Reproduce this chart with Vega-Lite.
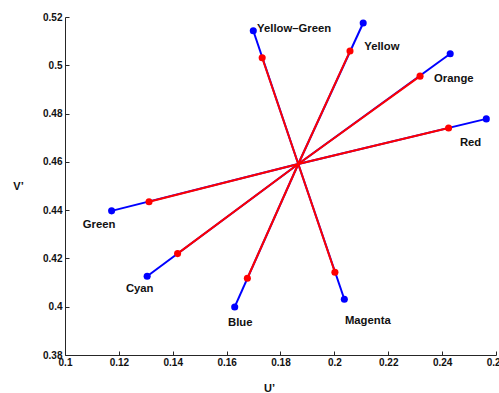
{
  "$schema": "https://vega.github.io/schema/vega-lite/v6.json",
  "width": 431,
  "height": 338,
  "autosize": {"type": "none"},
  "padding": {"left": 65, "top": 17, "right": 3, "bottom": 38},
  "background": "white",
  "config": {
    "view": {"stroke": null},
    "font": "Liberation Sans",
    "axis": {
      "grid": false,
      "domainColor": "#262626",
      "tickColor": "#262626",
      "domainWidth": 1,
      "tickWidth": 1,
      "tickSize": -4,
      "labelFlush": false,
      "labelOverlap": false,
      "labelBound": false,
      "labelFont": "Liberation Sans",
      "labelFontWeight": "bold",
      "labelFontSize": 10,
      "labelColor": "#111111",
      "titleFont": "Liberation Sans",
      "titleFontWeight": "bold",
      "titleFontSize": 11,
      "titleColor": "#111111"
    }
  },
  "data": {
    "values": [
      {"name": "Yellow–Green", "wu": 0.1866, "wv": 0.4591, "uo": 0.1699, "vo": 0.5143, "ui": 0.1732, "vi": 0.5031, "lu": 0.1713, "lv": 0.5151},
      {"name": "Yellow", "wu": 0.1866, "wv": 0.4591, "uo": 0.2107, "vo": 0.5175, "ui": 0.2058, "vi": 0.5059, "lu": 0.2111, "lv": 0.5077},
      {"name": "Orange", "wu": 0.1866, "wv": 0.4591, "uo": 0.2430, "vo": 0.5048, "ui": 0.2318, "vi": 0.4955, "lu": 0.2370, "lv": 0.4943},
      {"name": "Red", "wu": 0.1866, "wv": 0.4591, "uo": 0.2564, "vo": 0.4778, "ui": 0.2424, "vi": 0.4740, "lu": 0.2466, "lv": 0.4679},
      {"name": "Green", "wu": 0.1866, "wv": 0.4591, "uo": 0.1173, "vo": 0.4397, "ui": 0.1312, "vi": 0.4435, "lu": 0.1066, "lv": 0.4339},
      {"name": "Cyan", "wu": 0.1866, "wv": 0.4591, "uo": 0.1305, "vo": 0.4126, "ui": 0.1418, "vi": 0.4220, "lu": 0.1226, "lv": 0.4074},
      {"name": "Blue", "wu": 0.1866, "wv": 0.4591, "uo": 0.1630, "vo": 0.3999, "ui": 0.1677, "vi": 0.4118, "lu": 0.1605, "lv": 0.3933},
      {"name": "Magenta", "wu": 0.1866, "wv": 0.4591, "uo": 0.2037, "vo": 0.4031, "ui": 0.2002, "vi": 0.4143, "lu": 0.2039, "lv": 0.3942}
    ]
  },
  "layer": [
    {
      "mark": {"type": "rule", "color": "#0000ff", "strokeWidth": 2},
      "encoding": {
        "x": {
          "field": "wu", "type": "quantitative",
          "scale": {"domain": [0.1, 0.26], "nice": false, "zero": false},
          "axis": {
            "values": [0.1, 0.12, 0.14, 0.16, 0.18, 0.2, 0.22, 0.24, 0.26],
            "format": "~g",
            "labelPadding": 6,
            "title": "U’",
            "titleAngle": 0,
            "titleX": 204,
            "titleY": 33,
            "titleAlign": "center",
            "titleBaseline": "middle"
          }
        },
        "y": {
          "field": "wv", "type": "quantitative",
          "scale": {"domain": [0.38, 0.52], "nice": false, "zero": false},
          "axis": {
            "values": [0.38, 0.4, 0.42, 0.44, 0.46, 0.48, 0.5, 0.52],
            "format": "~g",
            "labelPadding": 7,
            "title": "V’",
            "titleAngle": 0,
            "titleX": -47,
            "titleY": 169,
            "titleAlign": "center",
            "titleBaseline": "middle"
          }
        },
        "x2": {"field": "uo"},
        "y2": {"field": "vo"}
      }
    },
    {
      "mark": {"type": "rule", "color": "#ff0000", "strokeWidth": 2},
      "encoding": {
        "x": {"field": "wu", "type": "quantitative"},
        "y": {"field": "wv", "type": "quantitative"},
        "x2": {"field": "ui"},
        "y2": {"field": "vi"}
      }
    },
    {
      "mark": {"type": "circle", "color": "#0000ff", "opacity": 1, "size": 50},
      "encoding": {
        "x": {"field": "uo", "type": "quantitative"},
        "y": {"field": "vo", "type": "quantitative"}
      }
    },
    {
      "mark": {"type": "circle", "color": "#ff0000", "opacity": 1, "size": 50},
      "encoding": {
        "x": {"field": "ui", "type": "quantitative"},
        "y": {"field": "vi", "type": "quantitative"}
      }
    },
    {
      "mark": {"type": "text", "align": "left", "baseline": "middle", "font": "Liberation Sans", "fontWeight": "bold", "fontSize": 11.3, "color": "#111111"},
      "encoding": {
        "x": {"field": "lu", "type": "quantitative"},
        "y": {"field": "lv", "type": "quantitative"},
        "text": {"field": "name"}
      }
    }
  ]
}
